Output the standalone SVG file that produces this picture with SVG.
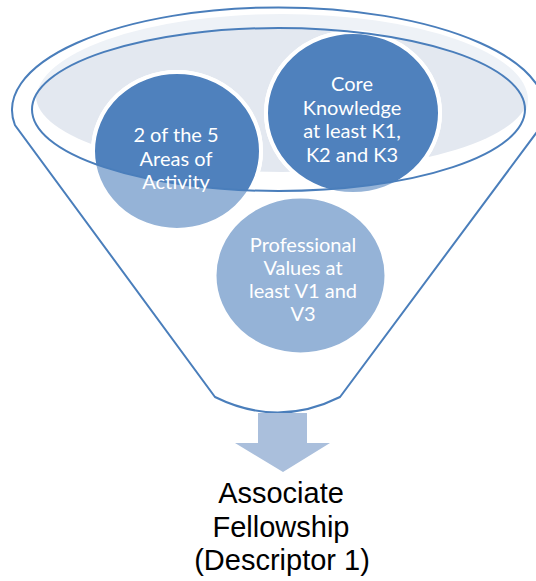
<svg xmlns="http://www.w3.org/2000/svg" width="536" height="581" viewBox="0 0 536 581">
<style>
.line{fill:none;stroke:#4a7ebb;stroke-width:2}
.circ{stroke:#fff;stroke-width:4}
.light{fill:#95b3d7}
.dark{fill:#4f81bd}
.lbl{font-family:Lato,"Open Sans",sans-serif;font-size:20px;fill:#fff;text-anchor:middle}
.out{font-family:"Liberation Sans",Arial,sans-serif;font-size:29px;fill:#000;text-anchor:middle}
</style>
<defs>
<clipPath id="innerClip"><ellipse cx="278.5" cy="109.5" rx="246.5" ry="81.5"/></clipPath>
</defs>
<rect width="536" height="581" fill="#fff"/>
<g id="funnel">
<path d="M14.9 125 A266.5 102.5 0 1 1 542.1 125 L340 397 Q278 428 215 397 Z" fill="#fff"/>
<ellipse cx="282" cy="100" rx="246" ry="86" fill="#eef2f7"/>
<ellipse cx="278.5" cy="109.5" rx="246.5" ry="81.5" fill="#fff"/>
<ellipse cx="282" cy="96" rx="246" ry="76" fill="#e3e8f0" clip-path="url(#innerClip)"/>
</g>
<g id="node-areas">
<ellipse class="circ light" cx="177" cy="151" rx="84" ry="79"/>
<ellipse class="circ dark" cx="177" cy="151" rx="84" ry="79" clip-path="url(#innerClip)"/>
</g>
<g id="node-core">
<ellipse class="circ light" cx="353" cy="113" rx="87" ry="81"/>
<ellipse class="circ dark" cx="353" cy="113" rx="87" ry="81" clip-path="url(#innerClip)"/>
</g>
<g id="node-values">
<ellipse class="circ light" cx="300.5" cy="275.5" rx="86" ry="79"/>
</g>
<g id="connectors">
<ellipse class="line" cx="278.5" cy="109.5" rx="246.5" ry="81.5"/>
<path class="line" d="M14.9 125 A266.5 102.5 0 1 1 542.1 125 L340 397 Q278 428 215 397 Z"/>
<path d="M258 413 H307 V443 H330 L283 472 L235 443 H258 Z" fill="#aabfdc"/>
</g>
<g id="labels">
<text class="lbl" x="176" y="142">2 of the 5</text>
<text class="lbl" x="176" y="165.5">Areas of</text>
<text class="lbl" x="176" y="189">Activity</text>
<text class="lbl" x="352" y="91">Core</text>
<text class="lbl" x="352" y="114.5">Knowledge</text>
<text class="lbl" x="352" y="138">at least K1,</text>
<text class="lbl" x="352" y="162">K2 and K3</text>
<text class="lbl" x="303" y="252">Professional</text>
<text class="lbl" x="303" y="275">Values at</text>
<text class="lbl" x="303" y="298">least V1 and</text>
<text class="lbl" x="303" y="321">V3</text>
<text class="out" x="281" y="503">Associate</text>
<text class="out" x="281" y="537">Fellowship</text>
<text class="out" x="282" y="570">(Descriptor 1)</text>
</g>
</svg>
